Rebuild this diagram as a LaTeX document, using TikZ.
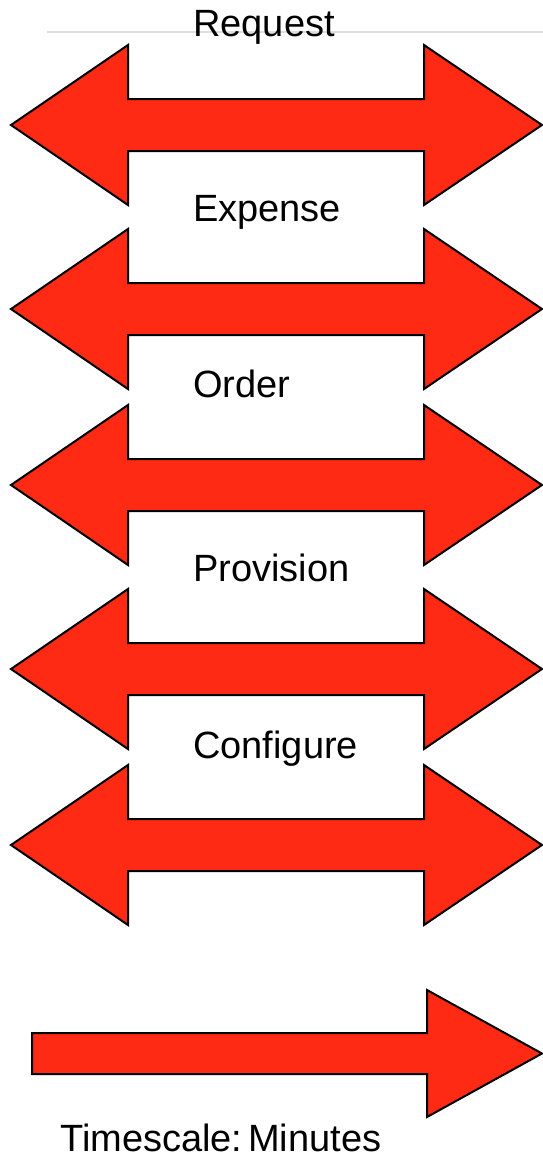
\documentclass[tikz,border=0pt]{standalone}
\usepackage{fontspec}
\setmainfont{Liberation Sans}
\usepackage{tikz}
\definecolor{arrowred}{RGB}{254,42,20}

\begin{document}
\begin{tikzpicture}[x=1pt,y=-1pt]
\tikzstyle{bigarrow}=[draw=black,fill=arrowred,line width=2pt,line join=miter]
\tikzstyle{stage}=[anchor=base west,inner sep=0pt,font=\fontsize{38}{42}\selectfont]
\useasboundingbox (0,0) rectangle (543,1157);
\draw[black!13,line width=2pt] (47,32) -- (543,32);
\foreach \name/\y in {
	1/125,
	2/309,
	3/485,
	4/669,
	5/845}
	\draw[bigarrow] (11,\y) -- (128,\y-80) -- (128,\y-26) -- (424,\y-26) -- (424,\y-80)
		-- (542,\y) -- (424,\y+80) -- (424,\y+26) -- (128,\y+26) -- (128,\y+80) -- cycle;
\foreach \name/\y/\word in {
	request/36/Request,
	expense/221/Expense,
	order/397/Order,
	provision/581/Provision,
	configure/758/Configure}
	\node[stage] (\name) at (193,\y) {\word};
% time axis
\draw[bigarrow] (32,1033) -- (427,1033) -- (427,990) -- (542,1053.5) -- (427,1117)
	-- (427,1074) -- (32,1074) -- cycle;
\node[stage] (timescale) at (60,1151) {Timescale:\hspace{0.15em}Minutes};
\end{tikzpicture}
\end{document}
